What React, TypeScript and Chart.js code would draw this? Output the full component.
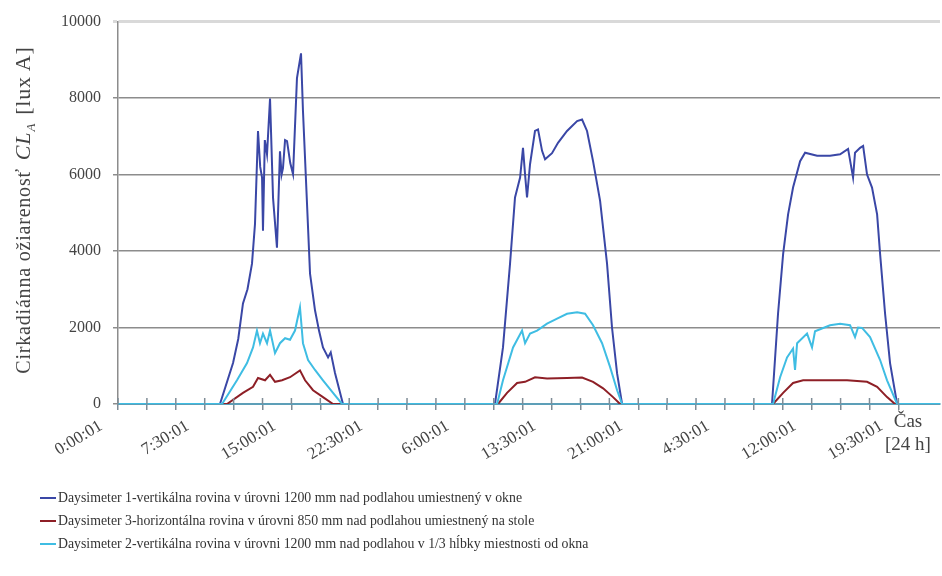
import React, { useEffect, useRef } from 'react';
import { Chart, registerables } from 'chart.js';

Chart.register(...registerables);

// ---- Data (time in hours from start, values in lux A) ----
const X_MAX = 71.1;
const xTickLabels = ['0:00:01', '7:30:01', '15:00:01', '22:30:01', '6:00:01', '13:30:01', '21:00:01', '4:30:01', '12:00:01', '19:30:01'];
const seriesNames = [
  'Daysimeter 1-vertikálna rovina v úrovni 1200 mm nad podlahou umiestnený v okne',
  'Daysimeter 3-horizontálna rovina v úrovni 850 mm nad podlahou umiestnený na stole',
  'Daysimeter 2-vertikálna rovina v úrovni 1200 mm nad podlahou v 1/3 hĺbky miestnosti od okna',
];

const blueHours = [0, 8.82, 9.95, 10.4, 10.81, 11.2, 11.59, 11.85, 12.11, 12.3, 12.46, 12.54, 12.7, 12.89, 13.15, 13.41, 13.75, 14.01, 14.15, 14.27, 14.45, 14.62, 14.9, 15.14, 15.48, 15.83, 16.0, 16.35, 16.61, 17.04, 17.4, 17.73, 18.17, 18.4, 18.77, 19.46,
  32.61, 33.3, 33.91, 34.34, 34.78, 35.03, 35.21, 35.38, 35.64, 36.07, 36.33, 36.68, 36.94, 37.54, 38.06, 38.84, 39.71, 40.14, 40.57, 41.09, 41.7, 42.3, 42.73, 43.17, 43.6,
  56.57, 57.09, 57.53, 57.96, 58.39, 59.0, 59.43, 60.47, 61.59, 62.46, 63.15, 63.58, 63.75, 64.19, 64.45, 64.79, 65.22, 65.66, 65.92, 66.35, 66.78, 67.39, 71.1];
const blueValues = [0, 0, 1070, 1700, 2630, 3000, 3670, 4710, 7140, 6200, 5920, 4530, 6900, 6530, 7990, 5390, 4090, 6610, 6000, 6170, 6900, 6875, 6300, 6010, 8520, 9170, 7660, 5230, 3410, 2450, 1900, 1480, 1220, 1350, 810, 0,
  0, 1480, 3670, 5400, 5920, 6700, 6000, 5400, 6270, 7140, 7180, 6620, 6400, 6560, 6830, 7140, 7400, 7440, 7140, 6350, 5310, 3670, 2000, 800, 0,
  0, 2360, 3920, 4960, 5660, 6350, 6570, 6490, 6490, 6530, 6670, 5920, 6570, 6700, 6750, 6000, 5660, 4960, 3920, 2360, 1070, 0, 0];

const redHours = [0, 9.43, 10.81, 11.68, 12.11, 12.72, 13.15, 13.58, 14.19, 14.88, 15.74, 16.18, 16.87, 17.73, 18.6,
  32.87, 33.65, 34.52, 35.21, 36.07, 37.11, 38.84, 40.14, 41.09, 41.96, 42.82, 43.43,
  56.66, 57.53, 58.39, 59.26, 60.99, 63.06, 64.79, 65.66, 66.52, 67.21, 71.1];
const redValues = [0, 0, 290, 450, 680, 620, 760, 580, 620, 700, 880, 620, 360, 180, 0,
  0, 290, 550, 580, 700, 670, 680, 690, 580, 410, 180, 0,
  0, 290, 550, 620, 620, 620, 580, 450, 180, 0, 0];

const cyanHours = [0, 9.0, 10.29, 11.16, 11.68, 12.02, 12.28, 12.54, 12.89, 13.15, 13.58, 14.01, 14.45, 14.88, 15.31, 15.74, 16.0, 16.44, 17.04, 17.73, 18.6, 19.38,
  32.79, 33.3, 34.17, 34.95, 35.21, 35.64, 36.25, 37.11, 37.98, 38.84, 39.71, 40.4, 41.09, 41.87, 42.56, 43.17, 43.6,
  56.66, 57.27, 57.87, 58.39, 58.56, 58.74, 59.6, 60.03, 60.29, 61.59, 62.46, 63.32, 63.75, 64.01, 64.36, 65.05, 65.92, 66.52, 67.39, 71.1];
const cyanValues = [0, 0, 620, 1070, 1480, 1920, 1590, 1840, 1590, 1920, 1330, 1590, 1720, 1680, 1920, 2530, 1590, 1150, 890, 620, 290, 0,
  0, 620, 1480, 1920, 1590, 1840, 1920, 2100, 2230, 2360, 2400, 2360, 2060, 1590, 970, 360, 0,
  0, 700, 1220, 1450, 890, 1590, 1840, 1480, 1900, 2060, 2100, 2060, 1750, 2000, 1990, 1750, 1150, 620, 0, 0];

const seriesColors = ['#3a47a6', '#8e1f26', '#3fbde3'];

const FONT = "'Liberation Serif', 'DejaVu Serif', serif";

const toPoints = (hs: number[], vs: number[]) => hs.map((h, i) => ({ x: h, y: vs[i] }));

const crossTicks = {
  id: 'crossTicks',
  afterDatasetsDraw(chart: any) {
    const s = chart.scales.x;
    const ctx = chart.ctx;
    ctx.save();
    ctx.strokeStyle = '#7f8c96';
    ctx.lineWidth = 1.5;
    s.ticks.forEach((_t: any, i: number) => {
      const px = s.getPixelForTick(i);
      ctx.beginPath();
      ctx.moveTo(px, s.top - 6);
      ctx.lineTo(px, s.top);
      ctx.stroke();
    });
    ctx.restore();
  },
};

export default function App() {
  const ref = useRef<HTMLCanvasElement | null>(null);

  useEffect(() => {
    if (!ref.current) return;
    const chart = new Chart(ref.current, {
      type: 'line',
      data: {
        datasets: [
          { label: seriesNames[0], data: toPoints(blueHours, blueValues), borderColor: seriesColors[0], borderWidth: 2, pointRadius: 0, tension: 0, order: 3 },
          { label: seriesNames[1], data: toPoints(redHours, redValues), borderColor: seriesColors[1], borderWidth: 2, pointRadius: 0, tension: 0, order: 2 },
          { label: seriesNames[2], data: toPoints(cyanHours, cyanValues), borderColor: seriesColors[2], borderWidth: 2, pointRadius: 0, tension: 0, order: 1 },
        ],
      },
      options: {
        responsive: false,
        animation: false,
        layout: { padding: { top: 20, right: 2, bottom: 0, left: 0 } },
        plugins: { legend: { display: false }, tooltip: { enabled: false } },
        scales: {
          x: {
            type: 'linear',
            min: 0,
            max: X_MAX,
            afterBuildTicks: (s: any) => {
              s.ticks = s.ticks.filter((t: any) => Math.abs(t.value / 2.5 - Math.round(t.value / 2.5)) < 1e-6);
            },
            afterFit: (s: any) => { s.height = 576 - 404; },
            ticks: {
              stepSize: 2.5,
              autoSkip: false,
              minRotation: 31,
              maxRotation: 31,
              padding: 6,
              labelOffset: -17,
              color: '#444',
              font: { family: FONT, size: 17 },
              callback: (v: any) => {
                const i = Math.round(v / 7.5);
                return Math.abs(v - i * 7.5) < 1e-6 ? (xTickLabels[i] ?? '') : '';
              },
            },
            grid: { drawOnChartArea: false, drawTicks: true, tickLength: 6, color: '#7f8c96', lineWidth: 1.5 },
            border: { color: '#5d9fb8', width: 2 },
          },
          y: {
            min: 0,
            max: 10000,
            afterFit: (s: any) => { s.width = 118; },
            ticks: { stepSize: 2000, padding: 12, color: '#444', font: { family: FONT, size: 16 }, callback: (v: any) => String(v) },
            grid: {
              color: (c: any) => (c.tick && c.tick.value === 10000 ? '#d9d9d9' : '#8c8c8c'),
              lineWidth: (c: any) => (c.tick && c.tick.value === 10000 ? 3 : 1.5),
              tickLength: 5,
            },
            border: { color: '#8c8c8c', width: 1.5 },
          },
        },
      },
      plugins: [crossTicks],
    });
    return () => chart.destroy();
  }, []);

  const legendRow = (i: number, top: number) => (
    <div key={i} style={{ position: 'absolute', left: 40, top, height: 20, display: 'flex', alignItems: 'center', whiteSpace: 'nowrap', fontFamily: FONT, fontSize: 13.8, color: '#333' }}>
      <span style={{ display: 'inline-block', width: 16, height: 2, background: seriesColors[i], marginRight: 2 }} />
      <span>{seriesNames[i]}</span>
    </div>
  );

  return (
    <div style={{ position: 'absolute', left: 0, top: 0, width: 942, height: 576, overflow: 'hidden', background: '#fff' }}>
      <canvas ref={ref} width={942} height={576} style={{ position: 'absolute', left: 0, top: 0 }} />
      <div style={{ position: 'absolute', left: 23 - 220, top: 210 - 12, width: 440, height: 24, lineHeight: '24px', textAlign: 'center', transform: 'rotate(-90deg)', fontFamily: FONT, fontSize: 20, letterSpacing: '0.8px', color: '#444', whiteSpace: 'nowrap' }}>
        Cirkadiánna ožiarenosť
        <span style={{ fontSize: 22, marginLeft: 8 }}>
          <i>CL</i><sub style={{ fontSize: 13, fontStyle: 'italic' }}>A</sub>
          <span style={{ marginLeft: 8 }}>[lux A]</span>
        </span>
      </div>
      <div style={{ position: 'absolute', left: 873, top: 409, width: 70, textAlign: 'center', fontFamily: FONT, fontSize: 19, lineHeight: '23px', color: '#444' }}>
        <div>Čas</div>
        <div>[24 h]</div>
      </div>
      {legendRow(0, 488)}
      {legendRow(1, 511)}
      {legendRow(2, 534)}
    </div>
  );
}
